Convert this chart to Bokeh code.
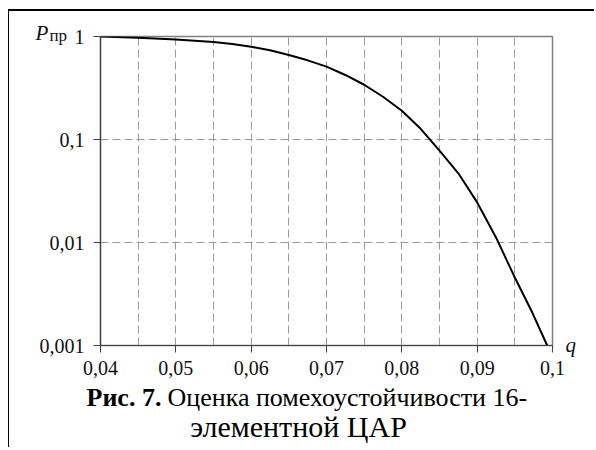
from bokeh.plotting import figure
from bokeh.models import FixedTicker, CustomJSTickFormatter, Range1d
from bokeh.core.properties import value
from bokeh.embed import file_html
from bokeh.resources import INLINE

# data
q_vals = [0.04, 0.045, 0.05, 0.055, 0.0575, 0.06, 0.0625, 0.065, 0.0675, 0.07, 0.0725,
          0.075, 0.0775, 0.08, 0.0825, 0.085, 0.0875, 0.09, 0.0925, 0.095, 0.0973, 0.0993]
p_vals = [1.0, 0.971, 0.935, 0.885, 0.845, 0.796, 0.734, 0.66, 0.587, 0.51, 0.423,
          0.34, 0.26, 0.19, 0.127, 0.078, 0.047, 0.0245, 0.0112, 0.00457, 0.0021, 0.001]

x_ticks = [0.04, 0.05, 0.06, 0.07, 0.08, 0.09, 0.1]
x_grid = [0.045, 0.05, 0.055, 0.06, 0.065, 0.07, 0.075, 0.08, 0.085, 0.09, 0.095]
y_ticks = [0.001, 0.01, 0.1, 1]
y_grid = [0.01, 0.1]

caption_bold = "Рис. 7."
caption_line1 = "Оценка помехоустойчивости 16-"
caption_line2 = "элементной ЦАР"
y_name = "P"
y_sub = "пр"
x_name = "q"

FONT = "Liberation Serif"

p = figure(width=586, height=438, output_backend="svg", toolbar_location=None,
           y_axis_type="log", x_range=Range1d(0.04, 0.1), y_range=Range1d(0.001, 1),
           min_border_left=91, min_border_right=43, min_border_top=25, min_border_bottom=104)
p.styles = {"border-top": "2px solid #000", "border-left": "1px solid #000",
            "margin-left": "8px", "margin-top": "9px"}

p.outline_line_color = "#808080"
p.outline_line_width = 1.5
p.background_fill_color = "white"
p.border_fill_color = "white"

fmt = CustomJSTickFormatter(code="return tick.toString().replace('.', ',');")
for ax, ticks in ((p.xaxis, x_ticks), (p.yaxis, y_ticks)):
    ax.ticker = FixedTicker(ticks=ticks, minor_ticks=[])
    ax.formatter = fmt
    ax.axis_line_color = "#404040"
    ax.axis_line_width = 1.2
    ax.major_tick_line_color = "#404040"
    ax.major_tick_in = 0
    ax.major_tick_out = 7
    ax.minor_tick_line_color = None
    ax.major_label_text_font = FONT
    ax.major_label_text_font_size = "20px"
    ax.major_label_text_color = "#111111"
p.yaxis.major_label_standoff = 9
p.xaxis.major_label_standoff = 8

p.xgrid.ticker = FixedTicker(ticks=x_grid)
p.ygrid.ticker = FixedTicker(ticks=y_grid)
for g in (p.xgrid, p.ygrid):
    g.grid_line_color = "#9a9a9a"
    g.grid_line_dash = "8 4"
    g.grid_line_width = 1

p.line(q_vals, p_vals, line_color="black", line_width=2)

x0, y0 = x_ticks[0], y_ticks[0]
x1, y1 = x_ticks[-1], y_ticks[-1]


def lab(x, y, dx, dy, text, size, style="normal", align="left", color="#111111"):
    # dy > 0 moves the text down (screen pixels)
    p.text(x=[x], y=[y], text=[text], x_offset=dx, y_offset=dy, level="overlay",
           text_font=value(FONT), text_font_style=style, text_font_size=size,
           text_baseline="alphabetic", text_align=align, text_color=color)


lab(x0, y1, -65, -4, y_name, "21px", "italic")
lab(x0, y1, -51, -1, y_sub, "17px")
lab(x1, y0, 13, -1, x_name, "21px", "italic")
lab(x0, y0, -14, 52, caption_bold, "26px", "bold", color="black")
lab(x0, y0, 67, 52, caption_line1, "26px", color="black")
lab(x0, y0, 198, 81, caption_line2, "30px", align="center", color="black")

open("out.html", "w").write(file_html(p, INLINE))
